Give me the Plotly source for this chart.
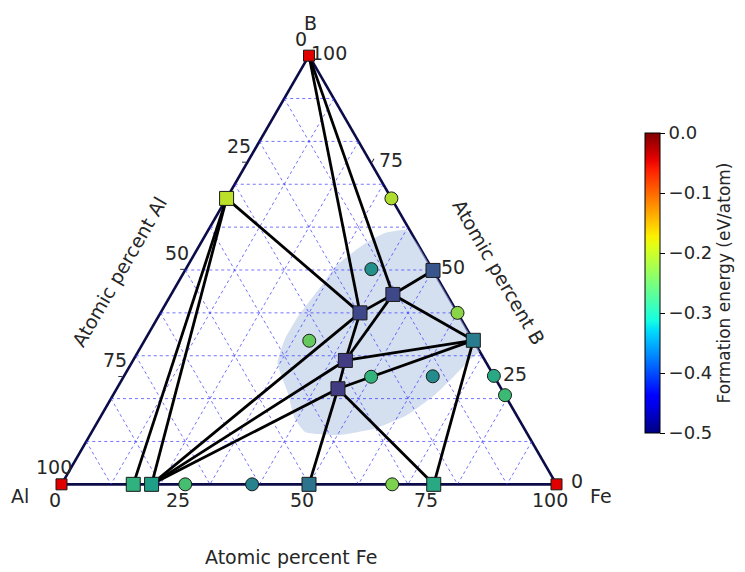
import math
import plotly.graph_objects as go

# ---------------- data (atomic fractions: Al, Fe, B) ----------------
# stable phases (squares on the hull)
stable_names = ["B", "Al", "Fe", "AlB2", "Al6Fe", "Al9Fe2", "AlFe", "AlFe3",
                "FeB", "Fe2B", "T1", "T2", "T3", "T4"]
stable_al = [0.0, 1.0, 0.0, 0.333, 0.855, 0.818, 0.500, 0.248, 0.000, 0.000, 0.109, 0.197, 0.282, 0.330]
stable_fe = [0.0, 0.0, 1.0, 0.000, 0.145, 0.182, 0.500, 0.752, 0.501, 0.664, 0.448, 0.403, 0.429, 0.447]
stable_b  = [1.0, 0.0, 0.0, 0.667, 0.000, 0.000, 0.000, 0.000, 0.499, 0.336, 0.443, 0.400, 0.289, 0.223]
stable_e  = [0.0, 0.0, 0.0, -0.15, -0.28, -0.32, -0.41, -0.30, -0.465, -0.39, -0.49, -0.49, -0.51, -0.51]

# unstable phases (circles)
unstable_al = [0.750, 0.615, 0.332, 0.000, 0.000, 0.000, 0.000, 0.123, 0.332, 0.249, 0.124]
unstable_fe = [0.250, 0.385, 0.668, 0.333, 0.600, 0.747, 0.792, 0.375, 0.333, 0.500, 0.624]
unstable_b  = [0.000, 0.000, 0.000, 0.667, 0.400, 0.253, 0.208, 0.502, 0.335, 0.251, 0.252]
unstable_e  = [-0.25, -0.375, -0.20, -0.16, -0.19, -0.30, -0.26, -0.35, -0.22, -0.275, -0.36]

# hull tie-lines
hull_edges = [("B", "T2"), ("B", "T1"), ("AlB2", "T2"), ("AlB2", "Al6Fe"), ("AlB2", "Al9Fe2"),
              ("Al9Fe2", "T2"), ("Al9Fe2", "T3"), ("Al9Fe2", "T4"), ("T4", "AlFe"), ("T4", "AlFe3"),
              ("T4", "Fe2B"), ("T4", "T3"), ("T3", "Fe2B"), ("T3", "T2"), ("T3", "T1"),
              ("T2", "T1"), ("T1", "FeB"), ("T1", "Fe2B"), ("Fe2B", "AlFe3")]

# shaded region outline
region_al = [0.055, 0.007, 0.000, 0.000, 0.000, 0.000, 0.000, 0.028, 0.080, 0.144, 0.222, 0.299,
             0.383, 0.447, 0.452, 0.436, 0.422, 0.380, 0.327, 0.239, 0.192, 0.111]
region_fe = [0.359, 0.400, 0.441, 0.533, 0.639, 0.680, 0.690, 0.680, 0.667, 0.649, 0.617, 0.570,
             0.502, 0.431, 0.394, 0.350, 0.295, 0.282, 0.282, 0.294, 0.307, 0.330]
region_b  = [0.586, 0.593, 0.559, 0.467, 0.361, 0.320, 0.310, 0.292, 0.253, 0.207, 0.161, 0.131,
             0.115, 0.122, 0.154, 0.214, 0.283, 0.338, 0.391, 0.467, 0.522, 0.559]

grid_vals = [0.1, 0.2, 0.3, 0.4, 0.5, 0.6, 0.7, 0.8, 0.9]
tick_vals = [0, 0.25, 0.5, 0.75, 1.0]
tick_labels = ["0", "25", "50", "75", "100"]

# ---------------- colour maps ----------------
def mpl_jet(n=33):
    def seg(pts, x):
        for (x0, y0), (x1, y1) in zip(pts[:-1], pts[1:]):
            if x0 <= x <= x1:
                return y0 + (y1 - y0) * (x - x0) / (x1 - x0) if x1 > x0 else y1
        return pts[-1][1]
    r = [(0, 0), (0.35, 0), (0.66, 1), (0.89, 1), (1, 0.5)]
    g = [(0, 0), (0.125, 0), (0.375, 1), (0.64, 1), (0.91, 0), (1, 0)]
    b = [(0, 0.5), (0.11, 1), (0.34, 1), (0.65, 0), (1, 0)]
    out = []
    for i in range(n):
        x = i / (n - 1)
        out.append([x, "rgb(%d,%d,%d)" % (round(255 * seg(r, x)), round(255 * seg(g, x)), round(255 * seg(b, x)))])
    return out

JET = mpl_jet()
FONT = "DejaVu Sans"
TXT = "#262626"
FS = 19
W_PX, H_PX = 745, 572
DOM_X = [61.5 / W_PX, 556.5 / W_PX]
DOM_Y = [(H_PX - 486) / H_PX, (H_PX - 54) / H_PX]

# geometry of the ternary triangle (same rule plotly uses: fit & centre in domain)
_dw = (DOM_X[1] - DOM_X[0]) * W_PX
_dh = (DOM_Y[1] - DOM_Y[0]) * H_PX
_side = min(_dw, _dh * 2 / math.sqrt(3))
_th = _side * math.sqrt(3) / 2
_x0 = DOM_X[0] * W_PX + (_dw - _side) / 2
_ybot = H_PX - (DOM_Y[0] * H_PX + (_dh - _th) / 2)


def tern_px(al, fe, b):
    return _x0 + _side * (fe + b / 2), _ybot - _th * b


def px_paper(x, y):
    return x / W_PX, 1 - y / H_PX


fig = go.Figure()

# shaded region
fig.add_trace(go.Scatterternary(
    a=region_b + region_b[:1], b=region_al + region_al[:1], c=region_fe + region_fe[:1],
    mode="lines", fill="toself", fillcolor="rgba(176,196,228,0.55)",
    line=dict(width=0, shape="spline", smoothing=0.45), hoverinfo="skip", showlegend=False))

# dotted grid
for k in grid_vals:
    for (a, b, c) in [([k, k], [1 - k, 0], [0, 1 - k]),
                      ([1 - k, 0], [k, k], [0, 1 - k]),
                      ([1 - k, 0], [0, 1 - k], [k, k])]:
        fig.add_trace(go.Scatterternary(a=a, b=b, c=c, mode="lines",
                                        line=dict(color="rgba(55,55,255,0.7)", width=1, dash="dot"),
                                        hoverinfo="skip", showlegend=False))

# hull lines
idx = {n: i for i, n in enumerate(stable_names)}
for p, q in hull_edges:
    i, j = idx[p], idx[q]
    fig.add_trace(go.Scatterternary(
        a=[stable_b[i], stable_b[j]], b=[stable_al[i], stable_al[j]], c=[stable_fe[i], stable_fe[j]],
        mode="lines", line=dict(color="black", width=2.8), hoverinfo="skip", showlegend=False))

# unstable points
fig.add_trace(go.Scatterternary(
    a=unstable_b, b=unstable_al, c=unstable_fe, mode="markers", cliponaxis=False,
    marker=dict(symbol="circle", size=13, color=unstable_e, colorscale="Viridis", cmin=-0.6, cmax=-0.1,
                line=dict(color="#1a1a1a", width=1)),
    showlegend=False))

# stable compounds
comp = [i for i, e in enumerate(stable_e) if e < 0]
fig.add_trace(go.Scatterternary(
    a=[stable_b[i] for i in comp], b=[stable_al[i] for i in comp], c=[stable_fe[i] for i in comp],
    mode="markers", cliponaxis=False,
    marker=dict(symbol="square", size=14, color=[stable_e[i] for i in comp], colorscale="Viridis",
                cmin=-0.6, cmax=-0.1, line=dict(color="#1a1a1a", width=1)),
    showlegend=False))

# elements
elem = [i for i, e in enumerate(stable_e) if e == 0]
fig.add_trace(go.Scatterternary(
    a=[stable_b[i] for i in elem], b=[stable_al[i] for i in elem], c=[stable_fe[i] for i in elem],
    mode="markers", cliponaxis=False,
    marker=dict(symbol="square", size=11, color="#e00000", line=dict(color="#1a1a1a", width=1)),
    showlegend=False))

# colorbar (jet, formation energy)
fig.add_trace(go.Scatterternary(
    a=stable_b, b=stable_al, c=stable_fe, mode="markers", hoverinfo="skip",
    marker=dict(size=1, opacity=0, color=stable_e, colorscale=JET, cmin=-0.5, cmax=0.0, showscale=True,
                colorbar=dict(x=645 / W_PX, xanchor="left", xpad=0, ypad=0,
                              y=1 - 283 / H_PX, yanchor="middle", len=300 / H_PX,
                              lenmode="fraction", thickness=15, outlinecolor="black", outlinewidth=1,
                              ticks="outside", ticklen=5, tickcolor="black",
                              tickvals=[0, -0.1, -0.2, -0.3, -0.4, -0.5], tickformat=".1f",
                              tickfont=dict(family=FONT, size=FS - 1, color=TXT),
                              title=dict(text="Formation energy (eV/atom)", side="right",
                                         font=dict(family=FONT, size=FS - 2, color=TXT)))),
    showlegend=False))

axis_common = dict(min=0, showgrid=False, linecolor="#0b0b48", linewidth=2.6, ticks="outside",
                   ticklen=4, tickcolor="#333", tickvals=tick_vals, showticklabels=False,
                   layer="below traces", title=dict(text=""))

annotations = []


def add_text(text, x, y, **kw):
    px, py = px_paper(x, y)
    d = dict(text=text, x=px, y=py, xref="paper", yref="paper", showarrow=False,
             xanchor="center", yanchor="middle", font=dict(family=FONT, size=FS, color=TXT))
    d.update(kw)
    annotations.append(d)


# tick labels: left edge = Al %, bottom edge = Fe %, right edge = B %
for v, lab in zip(tick_vals, tick_labels):
    x, y = tern_px(v, 0, 1 - v)          # left edge, Al = v
    add_text(lab, x - 8, y - 17)
    x, y = tern_px(1 - v, v, 0)          # bottom edge, Fe = v
    add_text(lab, x - 7, y + 16)
    x, y = tern_px(0, 1 - v, v)          # right edge, B = v
    add_text(lab, x + 20, y - 3)

# vertex labels
xb, yb = tern_px(0, 0, 1)
add_text("B", xb + 1, yb - 33)
xa, ya = tern_px(1, 0, 0)
add_text("Al", xa - 42, ya + 12)
xf, yf = tern_px(0, 1, 0)
add_text("Fe", xf + 44, yf + 12)

# axis titles
add_text("Atomic percent Fe", (xa + xf) / 2 - 18, ya + 73)
add_text("Atomic percent Al", (xa + xb) / 2 - 66, (ya + yb) / 2 + 2, textangle=-60)
add_text("Atomic percent B", (xf + xb) / 2 + 66, (yf + yb) / 2 + 2, textangle=60)

fig.update_layout(
    width=W_PX, height=H_PX, margin=dict(l=0, r=0, t=0, b=0),
    paper_bgcolor="white", plot_bgcolor="white",
    ternary=dict(sum=1, bgcolor="white", domain=dict(x=DOM_X, y=DOM_Y),
                 aaxis=axis_common, baxis=axis_common, caxis=axis_common),
    font=dict(family=FONT, size=FS, color=TXT),
    annotations=annotations,
)

fig.write_html("out.html")
